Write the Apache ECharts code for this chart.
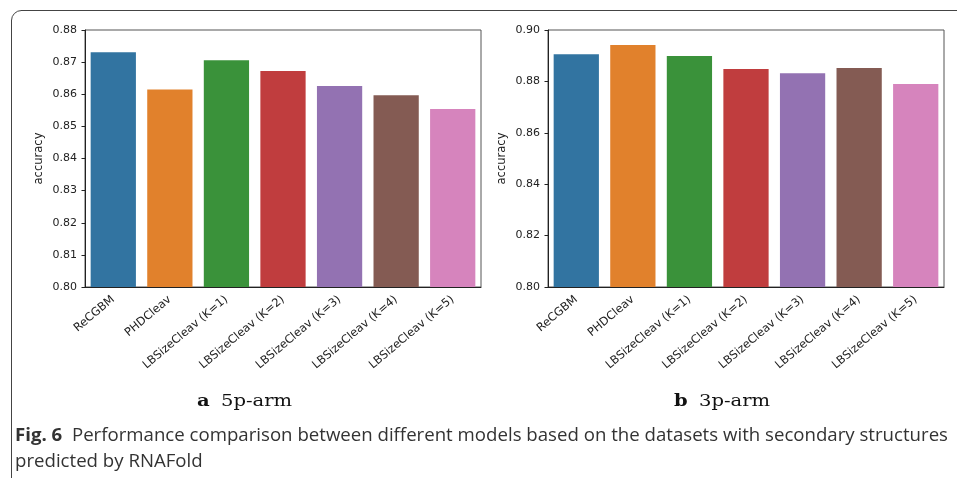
<!DOCTYPE html>
<html>
<head>
<meta charset="utf-8">
<script src="https://cdn.jsdelivr.net/npm/echarts@6/dist/echarts.min.js"></script>
<style>
html,body{margin:0;padding:0;background:#fff;}
#chart{width:957px;height:481px;}
</style>
</head>
<body>
<div id="chart"></div>
<script>
const categories = ['ReCGBM', 'PHDCleav', 'LBSizeCleav (K=1)', 'LBSizeCleav (K=2)', 'LBSizeCleav (K=3)', 'LBSizeCleav (K=4)', 'LBSizeCleav (K=5)'];
const accuracy5p = [0.8731, 0.8615, 0.8706, 0.8672, 0.8626, 0.8597, 0.8554];
const accuracy3p = [0.8906, 0.8942, 0.8899, 0.8848, 0.8832, 0.8852, 0.8790];
const barColors = ['#3274a1', '#e1812c', '#3a923a', '#c03d3e', '#9372b2', '#845b53', '#d684bd'];
const yTicks5p = { min: 0.80, max: 0.88, interval: 0.01 };
const yTicks3p = { min: 0.80, max: 0.90, interval: 0.02 };
const captionBold = 'Fig. 6';
const captionLine1 = 'Performance comparison between different models based on the datasets with secondary structures';
const captionLine2 = 'predicted by RNAFold';
const panelA = ['a', '5p-arm'];
const panelB = ['b', '3p-arm'];

const chart = echarts.init(document.getElementById('chart'), null, { renderer: 'canvas' });

function measure(font, txt) {
  const c = document.createElement('canvas').getContext('2d');
  c.font = font;
  return c.measureText(txt).width;
}
const capFont = '"Open Sans"';
const capSize = 18;
const w1 = measure('bold ' + capSize + 'px ' + capFont, captionBold) + measure(capSize + 'px ' + capFont, '  ' + captionLine1);
const capScale = 933 / w1;
const panelScale = 1.15;

function xAxis(gi) {
  return {
    type: 'category', gridIndex: gi, data: categories,
    axisLine: { lineStyle: { color: '#222', width: 1 } },
    axisTick: { alignWithLabel: true, length: 3.5, lineStyle: { color: '#222' } },
    axisLabel: { rotate: 40, margin: 11, fontFamily: 'DejaVu Sans', fontSize: 11.5, color: '#222', interval: 0 }
  };
}
function yAxis(gi, t) {
  return {
    type: 'value', gridIndex: gi, min: t.min, max: t.max, interval: t.interval,
    name: 'accuracy', nameLocation: 'middle', nameGap: 40, nameRotate: 90,
    nameTextStyle: { fontFamily: 'DejaVu Sans', fontSize: 11.5, color: '#222' },
    axisLine: { show: true, lineStyle: { color: '#222', width: 1 } },
    axisTick: { show: true, length: 3.5, lineStyle: { color: '#222' } },
    splitLine: { show: false },
    axisLabel: { margin: 8, fontFamily: 'DejaVu Sans', fontSize: 11, color: '#222', formatter: v => v.toFixed(2) }
  };
}
function barSeries(xi, data) {
  return {
    type: 'bar', xAxisIndex: xi, yAxisIndex: xi,
    data: data.map((v, i) => ({ value: v, itemStyle: { color: barColors[i] } })),
    barCategoryGap: '20%', silent: true
  };
}
function label(x, y, txt, bold) {
  return { type: 'text', x: x, y: y, scaleX: panelScale, originX: 0,
    style: { text: txt, font: (bold ? 'bold ' : '') + '17px "DejaVu Serif"', fill: '#111', verticalAlign: 'top' } };
}

chart.setOption({
  animation: false,
  backgroundColor: '#fff',
  grid: [
    { left: 85, top: 30, width: 396, height: 257, show: true, borderColor: '#555', borderWidth: 1, backgroundColor: 'transparent' },
    { left: 548, top: 30, width: 396, height: 257, show: true, borderColor: '#555', borderWidth: 1, backgroundColor: 'transparent' }
  ],
  xAxis: [xAxis(0), xAxis(1)],
  yAxis: [yAxis(0, yTicks5p), yAxis(1, yTicks3p)],
  series: [barSeries(0, accuracy5p), barSeries(1, accuracy3p)],
  graphic: [
    { type: 'line', shape: { x1: 11.5, y1: 478, x2: 11.5, y2: 20 }, style: { stroke: '#444', lineWidth: 1 } },
    { type: 'arc', shape: { cx: 21.5, cy: 20.5, r: 10, startAngle: Math.PI, endAngle: Math.PI * 1.5 }, style: { fill: null, stroke: '#444', lineWidth: 1 } },
    { type: 'line', shape: { x1: 21, y1: 10.5, x2: 957, y2: 10.5 }, style: { stroke: '#444', lineWidth: 1 } },
    label(197, 393, panelA[0], true),
    label(221, 393, panelA[1], false),
    label(674, 393, panelB[0], true),
    label(699, 393, panelB[1], false),
    { type: 'text', x: 15, y: 427, scaleX: capScale, originX: 0,
      style: { text: '{b|' + captionBold + '}  ' + captionLine1, font: capSize + 'px ' + capFont, fill: '#333', verticalAlign: 'top',
        rich: { b: { font: 'bold ' + capSize + 'px ' + capFont, fill: '#333' } } } },
    { type: 'text', x: 15, y: 453, scaleX: capScale, originX: 0,
      style: { text: captionLine2, font: capSize + 'px ' + capFont, fill: '#333', verticalAlign: 'top' } }
  ]
});
</script>
</body>
</html>
